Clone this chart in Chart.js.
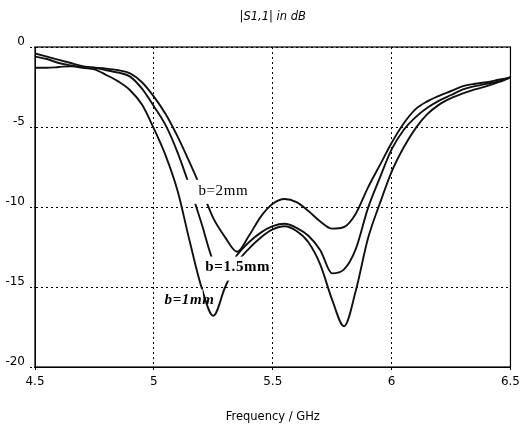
<!DOCTYPE html>
<html><head><meta charset="utf-8">
<script src="https://cdn.jsdelivr.net/npm/chart.js@4/dist/chart.umd.min.js"></script>
<style>html,body{margin:0;padding:0;background:#fff}#wrap{width:524px;height:426px}</style>
</head><body><div id="wrap"><canvas id="c" width="524" height="426"></canvas></div>
<script>
// ---- data ----
const freqGHz = [4.5,4.55,4.6,4.65,4.7,4.75,4.8,4.85,4.9,4.95,5.0,5.05,5.1,5.15,5.2,5.25,5.3,5.35,5.4,5.45,5.5,5.55,5.6,5.65,5.7,5.75,5.8,5.85,5.9,5.95,6.0,6.05,6.1,6.15,6.2,6.25,6.3,6.35,6.4,6.45,6.5];
const s11_b1mm = [-0.6,-0.75,-1.0,-1.15,-1.3,-1.4,-1.75,-2.15,-2.7,-3.6,-5.1,-6.8,-9.0,-12.1,-15.0,-16.8,-15.0,-13.5,-12.6,-11.9,-11.4,-11.2,-11.5,-12.2,-13.6,-15.8,-17.45,-15.2,-12.0,-9.8,-7.8,-6.3,-5.1,-4.2,-3.6,-3.2,-2.9,-2.65,-2.45,-2.2,-1.9];
const s11_b15mm = [-0.4,-0.6,-0.8,-1.0,-1.2,-1.3,-1.45,-1.6,-1.85,-2.6,-3.7,-4.9,-6.6,-8.7,-11.0,-13.4,-14.2,-13.0,-12.2,-11.6,-11.2,-11.05,-11.3,-11.8,-12.7,-14.15,-13.9,-12.6,-10.1,-8.2,-6.4,-5.2,-4.4,-3.8,-3.35,-3.0,-2.65,-2.45,-2.3,-2.15,-1.9];
const s11_b2mm = [-1.3,-1.3,-1.25,-1.2,-1.25,-1.3,-1.35,-1.45,-1.65,-2.2,-3.1,-4.2,-5.6,-7.2,-8.9,-10.7,-11.9,-12.8,-11.8,-10.6,-9.8,-9.5,-9.7,-10.25,-10.9,-11.35,-11.25,-10.4,-8.8,-7.4,-6.0,-4.8,-3.9,-3.4,-3.05,-2.75,-2.45,-2.3,-2.2,-2.05,-1.9];
const seriesLabels = ['b=1mm','b=1.5mm','b=2mm'];
const xTicks = [4.5,5,5.5,6,6.5];
const yTicks = [0,-5,-10,-15,-20];
const titleText = '|S1,1| in dB';
const xTitleText = 'Frequency / GHz';

const toPts = arr => arr.map((v,i)=>({x:freqGHz[i], y:v}));
const seriesData = [s11_b1mm, s11_b15mm, s11_b2mm];

// annotation labels anchored in data space (freq, dB)
const annot = [
  {text: seriesLabels[2], fx: 5.292, fy: -9.0, font: '15px "Liberation Serif"', box: [5.13, -8.3, 5.40, -9.8]},
  {text: seriesLabels[1], fx: 5.353, fy: -13.75, font: 'bold 15px "Liberation Serif"', box: [5.21, -13.1, 5.49, -14.6]},
  {text: seriesLabels[0], fx: 5.150, fy: -15.85, font: 'italic bold 15px "Liberation Serif"', box: [5.03, -15.15, 5.205, -16.4]}
];

const framePlugin = {
  id: 'frame',
  afterDatasetsDraw(chart) {
    const {ctx, chartArea: a, scales: {x, y}} = chart;
    ctx.save();
    // white boxes where the scanned figure's labels interrupt the curves
    annot.forEach(an => {
      const x0 = x.getPixelForValue(an.box[0]), x1 = x.getPixelForValue(an.box[2]);
      const y0 = y.getPixelForValue(an.box[1]), y1 = y.getPixelForValue(an.box[3]);
      ctx.fillStyle = '#fff';
      ctx.fillRect(x0, y0, x1 - x0, y1 - y0);
    });
    ctx.fillStyle = '#000';
    ctx.textAlign = 'center';
    ctx.textBaseline = 'middle';
    annot.forEach(an => {
      ctx.font = an.font;
      try { ctx.letterSpacing = '0.6px'; } catch(e) {}
      ctx.fillText(an.text, x.getPixelForValue(an.fx), y.getPixelForValue(an.fy));
    });
    try { ctx.letterSpacing = '0px'; } catch(e) {}
    // full frame
    ctx.strokeStyle = '#000';
    ctx.lineWidth = 1.2;
    ctx.setLineDash([]);
    ctx.strokeRect(a.left, a.top, a.right - a.left, a.bottom - a.top);
    // title
    ctx.font = 'italic 11.5px "DejaVu Sans"';
    ctx.textAlign = 'center';
    ctx.textBaseline = 'middle';
    ctx.fillText(titleText, (a.left + a.right) / 2, 17);
    ctx.restore();
  }
};

new Chart(document.getElementById('c'), {
  type: 'line',
  data: {
    datasets: seriesData.map((arr, i) => ({
      label: seriesLabels[i],
      data: toPts(arr),
      borderColor: '#111',
      borderWidth: 1.9,
      pointRadius: 0,
      fill: false,
      cubicInterpolationMode: 'monotone'
    }))
  },
  options: {
    responsive: false,
    animation: false,
    layout: {padding: {left: 0, right: 13, top: 47, bottom: 0}},
    plugins: {legend: {display: false}, tooltip: {enabled: false}, title: {display: false}},
    scales: {
      x: {
        type: 'linear', min: 4.5, max: 6.5,
        afterBuildTicks: s => { s.ticks = xTicks.map(v => ({value: v})); },
        afterFit: s => { s.height = 59; },
        ticks: {color: '#000', font: {family: 'DejaVu Sans', size: 12}, padding: 4, maxRotation: 0,
                callback: v => String(v)},
        grid: {color: '#000', lineWidth: 1, tickLength: 4, tickBorderDash: [2, 2]},
        border: {display: true, color: '#000', dash: [2, 3]},
        title: {display: true, text: xTitleText, color: '#000', font: {family: 'DejaVu Sans', size: 11.5},
                padding: {top: 0, bottom: 2}}
      },
      y: {
        type: 'linear', min: -20, max: 0,
        afterBuildTicks: s => { s.ticks = yTicks.map(v => ({value: v})); },
        afterFit: s => { s.width = 35; },
        ticks: {color: '#000', font: {family: 'DejaVu Sans', size: 12}, padding: 5, labelOffset: -5,
                callback: v => String(v)},
        grid: {color: '#000', lineWidth: 1, tickLength: 5, tickBorderDash: [2, 2]},
        border: {display: true, color: '#000', dash: [2, 3]}
      }
    }
  },
  plugins: [framePlugin]
});
</script></body></html>
